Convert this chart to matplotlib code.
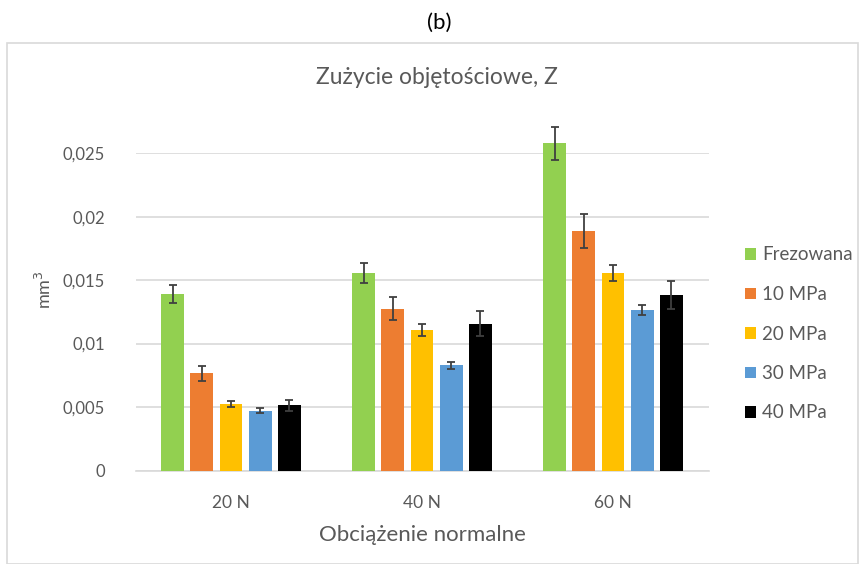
import matplotlib
matplotlib.use("Agg")
import matplotlib.pyplot as plt
import numpy as np
from matplotlib.patches import Rectangle

plt.rcParams['font.family'] = ['Lato', 'DejaVu Sans']

categories = ["20 N", "40 N", "60 N"]
series = ["Frezowana", "10 MPa", "20 MPa", "30 MPa", "40 MPa"]
colors = ["#92d050", "#ed7d31", "#ffc000", "#5b9bd5", "#000000"]
values = {
    "Frezowana": [0.0139, 0.0156, 0.0258],
    "10 MPa":    [0.00765, 0.01275, 0.0189],
    "20 MPa":    [0.00526, 0.01107, 0.01556],
    "30 MPa":    [0.00471, 0.00828, 0.01267],
    "40 MPa":    [0.00513, 0.01157, 0.01383],
}
errors = {
    "Frezowana": [0.00073, 0.00079, 0.00131],
    "10 MPa":    [0.00058, 0.00092, 0.00134],
    "20 MPa":    [0.00023, 0.00049, 0.00065],
    "30 MPa":    [0.00020, 0.00025, 0.00040],
    "40 MPa":    [0.00043, 0.00097, 0.00113],
}
yticks = [0, 0.005, 0.01, 0.015, 0.02, 0.025]
ytick_labels = ["0", "0,005", "0,01", "0,015", "0,02", "0,025"]

W, H = 863, 564
fig = plt.figure(figsize=(W/100, H/100), dpi=100)
ax = fig.add_axes([135.5/W, (H-470.5)/H, 573/W, (470.5-153.3)/H])

x = np.arange(len(categories))
step = 0.153
width = 0.12
for i, s in enumerate(series):
    pos = x + (i - 2) * step
    bars = ax.bar(pos, values[s], width=width, color=colors[i], label=s, zorder=3)
    for b in bars:
        b.set_clip_on(False)
    eb = ax.errorbar(pos, values[s], yerr=errors[s], fmt='none', ecolor='#404040',
                     elinewidth=1.3, capsize=3.2, capthick=1.3, zorder=4)
    for art in list(eb.lines[1]) + list(eb.lines[2]):
        art.set_clip_on(False)

ax.set_xlim(-0.5, 2.5)
ax.set_ylim(0, 0.025)
ax.set_yticks(yticks)
ax.set_yticklabels(ytick_labels)
ax.set_xticks(x)
ax.set_xticklabels(categories)
ax.grid(axis='y', color='#d9d9d9', linewidth=1.2, zorder=0)
ax.set_axisbelow(True)
for sp in ['top', 'right', 'left']:
    ax.spines[sp].set_visible(False)
ax.spines['bottom'].set_color('#d9d9d9')
ax.spines['bottom'].set_linewidth(1.2)
ax.tick_params(axis='both', length=0, colors='#595959', labelsize=12)
ax.tick_params(axis='x', labelsize=12.5)
ax.tick_params(axis='y', pad=22)
ax.tick_params(axis='x', pad=18)

ax.set_xlabel("Obciążenie normalne", fontsize=16, color='#595959', labelpad=10)
fig.text(44/W, 1-290/H, "mm$^3$", rotation=90, fontsize=13, color='#595959',
         ha='center', va='center')

fig.text(437/W, 1-77/H, "Zużycie objętościowe, Z", fontsize=16.5, color='#595959',
         ha='center', va='center')
fig.text(439/W, 1-23/H, "(b)", fontsize=16, color='#000000', ha='center', va='center')

fig.patches.append(Rectangle((7/W, 0), 851/W, 1-43/H, transform=fig.transFigure,
                             fill=False, edgecolor='#d9d9d9', linewidth=1.2))

leg = ax.legend(loc='center left', bbox_to_anchor=(728/W, 1-334/H),
                bbox_transform=fig.transFigure, frameon=False, fontsize=13.5,
                handlelength=0.57, handleheight=0.57, handletextpad=0.35,
                labelspacing=1.2, labelcolor='#595959')

fig.savefig("out.png", dpi=100)
